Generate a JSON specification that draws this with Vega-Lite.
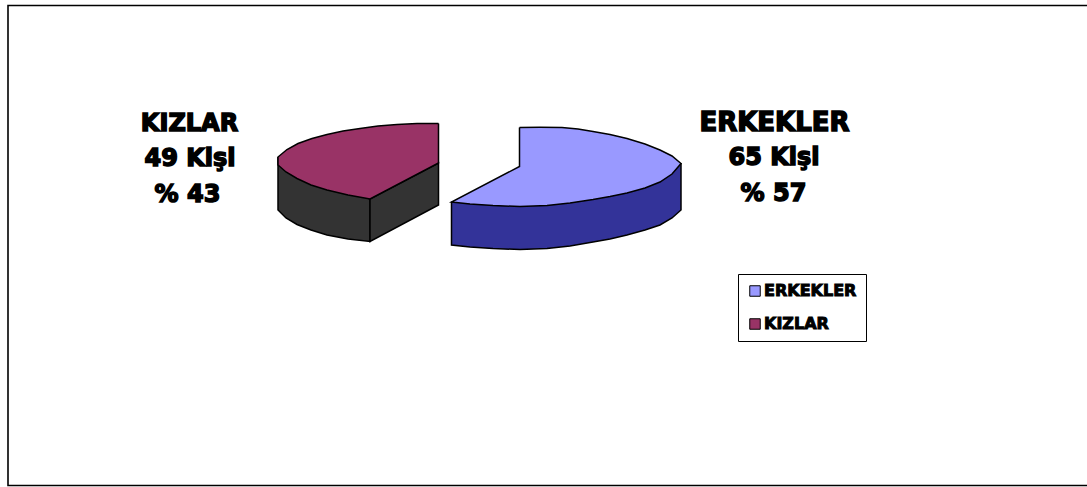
{
"$schema":"https://vega.github.io/schema/vega-lite/v6.json",
"autosize":"none",
"width":1087,"height":487,"padding":0,
"background":"#ffffff",
"config":{"view":{"stroke":null}},
"datasets":{
"cerceve":[{"x":1087,"y":5.5,"o":1},{"x":8,"y":5.5,"o":2},{"x":8,"y":485.5,"o":3},{"x":1087,"y":485.5,"o":4}],
"yan":[
{"yuz":"KIZLAR yan","o":1,"x":278,"y":157},{"yuz":"KIZLAR yan","o":2,"x":278,"y":210},{"yuz":"KIZLAR yan","o":3,"x":286,"y":218},{"yuz":"KIZLAR yan","o":4,"x":297,"y":224.5},{"yuz":"KIZLAR yan","o":5,"x":311,"y":230},{"yuz":"KIZLAR yan","o":6,"x":327,"y":235},{"yuz":"KIZLAR yan","o":7,"x":348,"y":239},{"yuz":"KIZLAR yan","o":8,"x":370,"y":241.5},{"yuz":"KIZLAR yan","o":9,"x":370,"y":199},{"yuz":"KIZLAR yan","o":10,"x":278,"y":165},{"yuz":"KIZLAR yan","o":11,"x":278,"y":157},
{"yuz":"KIZLAR kesit","o":1,"x":370,"y":199},{"yuz":"KIZLAR kesit","o":2,"x":370,"y":241.5},{"yuz":"KIZLAR kesit","o":3,"x":438.5,"y":205},{"yuz":"KIZLAR kesit","o":4,"x":438.5,"y":163},{"yuz":"KIZLAR kesit","o":5,"x":370,"y":199},
{"yuz":"ERKEKLER yan","o":1,"x":451.5,"y":202},{"yuz":"ERKEKLER yan","o":2,"x":451.5,"y":245},{"yuz":"ERKEKLER yan","o":3,"x":470,"y":247},{"yuz":"ERKEKLER yan","o":4,"x":493,"y":248.5},{"yuz":"ERKEKLER yan","o":5,"x":520,"y":249.5},{"yuz":"ERKEKLER yan","o":6,"x":547,"y":248.5},{"yuz":"ERKEKLER yan","o":7,"x":570,"y":246},{"yuz":"ERKEKLER yan","o":8,"x":593,"y":242},{"yuz":"ERKEKLER yan","o":9,"x":610,"y":239},{"yuz":"ERKEKLER yan","o":10,"x":627,"y":235},{"yuz":"ERKEKLER yan","o":11,"x":645,"y":230},{"yuz":"ERKEKLER yan","o":12,"x":660,"y":225},{"yuz":"ERKEKLER yan","o":13,"x":672,"y":218},{"yuz":"ERKEKLER yan","o":14,"x":681,"y":210},{"yuz":"ERKEKLER yan","o":15,"x":681,"y":164},{"yuz":"ERKEKLER yan","o":16,"x":451.5,"y":202}
],
"ust":[
{"dilim":"ERKEKLER","o":1,"x":519.5,"y":127.5},{"dilim":"ERKEKLER","o":2,"x":540,"y":127.3},{"dilim":"ERKEKLER","o":3,"x":562,"y":127.5},{"dilim":"ERKEKLER","o":4,"x":578,"y":129},{"dilim":"ERKEKLER","o":5,"x":593,"y":131.5},{"dilim":"ERKEKLER","o":6,"x":610,"y":134.5},{"dilim":"ERKEKLER","o":7,"x":627,"y":138.5},{"dilim":"ERKEKLER","o":8,"x":645,"y":144},{"dilim":"ERKEKLER","o":9,"x":660,"y":150},{"dilim":"ERKEKLER","o":10,"x":672,"y":156},{"dilim":"ERKEKLER","o":11,"x":681,"y":163.5},{"dilim":"ERKEKLER","o":12,"x":672,"y":174},{"dilim":"ERKEKLER","o":13,"x":660,"y":182},{"dilim":"ERKEKLER","o":14,"x":645,"y":188},{"dilim":"ERKEKLER","o":15,"x":627,"y":193},{"dilim":"ERKEKLER","o":16,"x":610,"y":196.5},{"dilim":"ERKEKLER","o":17,"x":593,"y":199.5},{"dilim":"ERKEKLER","o":18,"x":570,"y":203},{"dilim":"ERKEKLER","o":19,"x":547,"y":205.5},{"dilim":"ERKEKLER","o":20,"x":520,"y":206.5},{"dilim":"ERKEKLER","o":21,"x":493,"y":205.5},{"dilim":"ERKEKLER","o":22,"x":470,"y":204},{"dilim":"ERKEKLER","o":23,"x":451.5,"y":202},{"dilim":"ERKEKLER","o":24,"x":519.5,"y":166.5},{"dilim":"ERKEKLER","o":25,"x":519.5,"y":127.5},
{"dilim":"KIZLAR","o":1,"x":438.5,"y":123.5},{"dilim":"KIZLAR","o":2,"x":417,"y":123.5},{"dilim":"KIZLAR","o":3,"x":397,"y":124.5},{"dilim":"KIZLAR","o":4,"x":378,"y":126},{"dilim":"KIZLAR","o":5,"x":360,"y":128.5},{"dilim":"KIZLAR","o":6,"x":343,"y":131},{"dilim":"KIZLAR","o":7,"x":327,"y":134.5},{"dilim":"KIZLAR","o":8,"x":312,"y":138.5},{"dilim":"KIZLAR","o":9,"x":298,"y":143.5},{"dilim":"KIZLAR","o":10,"x":287,"y":149.5},{"dilim":"KIZLAR","o":11,"x":278,"y":157},{"dilim":"KIZLAR","o":12,"x":278,"y":165},{"dilim":"KIZLAR","o":13,"x":286,"y":172},{"dilim":"KIZLAR","o":14,"x":297,"y":178.5},{"dilim":"KIZLAR","o":15,"x":311,"y":185},{"dilim":"KIZLAR","o":16,"x":327,"y":190},{"dilim":"KIZLAR","o":17,"x":348,"y":195},{"dilim":"KIZLAR","o":18,"x":370,"y":199},{"dilim":"KIZLAR","o":19,"x":438.5,"y":163},{"dilim":"KIZLAR","o":20,"x":438.5,"y":123.5}
],
"etiket":[
{"metin":"KIZLAR","x":189.5,"y":124},{"metin":"49 Kişi","x":190,"y":159},{"metin":"% 43","x":187.5,"y":195},
{"metin":"65 Kişi","x":774,"y":158},{"metin":"% 57","x":773.5,"y":194}
],
"baslik":[{"metin":"ERKEKLER","x":774.5,"y":123}]
},
"layer":[
{"data":{"name":"cerceve"},"mark":{"type":"line","stroke":"#000000","strokeWidth":1.6,"clip":true},
"encoding":{"x":{"field":"x","type":"quantitative","scale":{"domain":[0,1087],"nice":false},"axis":null},"y":{"field":"y","type":"quantitative","scale":{"domain":[487,0],"nice":false},"axis":null},"order":{"field":"o"}}},
{"data":{"name":"yan"},"mark":{"type":"line","filled":true,"stroke":"#000000","strokeWidth":1.5},
"encoding":{"x":{"field":"x","type":"quantitative","scale":{"domain":[0,1087],"nice":false},"axis":null},"y":{"field":"y","type":"quantitative","scale":{"domain":[487,0],"nice":false},"axis":null},"order":{"field":"o"},
"fill":{"field":"yuz","type":"nominal","legend":null,"scale":{"domain":["ERKEKLER yan","KIZLAR yan","KIZLAR kesit"],"range":["#333399","#333333","#333333"]}}}},
{"data":{"name":"ust"},"mark":{"type":"line","filled":true,"stroke":"#000000","strokeWidth":1.5},
"encoding":{"x":{"field":"x","type":"quantitative","scale":{"domain":[0,1087],"nice":false},"axis":null},"y":{"field":"y","type":"quantitative","scale":{"domain":[487,0],"nice":false},"axis":null},"order":{"field":"o"},
"fill":{"field":"dilim","type":"nominal","scale":{"domain":["ERKEKLER","KIZLAR"],"range":["#9999ff","#993366"]},
"legend":{"title":null,"orient":"none","legendX":738,"legendY":274,"padding":9,"strokeColor":"#000000","fillColor":"#ffffff","symbolType":"square","symbolSize":110,"symbolStrokeColor":"#000000","symbolStrokeWidth":1,"labelFont":"DejaVu Sans","labelFontWeight":"bold","labelFontSize":16,"labelColor":"#000000","rowPadding":17,"labelOffset":1,
"encode":{"labels":{"update":{"stroke":{"value":"#000000"},"strokeWidth":{"value":1}}}}}}}},
{"data":{"name":"etiket"},"mark":{"type":"text","font":"DejaVu Sans","fontWeight":"bold","fontSize":24,"align":"center","baseline":"middle","fill":"#000000","stroke":"#000000","strokeWidth":1.5},
"encoding":{"x":{"field":"x","type":"quantitative","scale":{"domain":[0,1087],"nice":false},"axis":null},"y":{"field":"y","type":"quantitative","scale":{"domain":[487,0],"nice":false},"axis":null},"text":{"field":"metin"}}},
{"data":{"name":"baslik"},"mark":{"type":"text","font":"DejaVu Sans","fontWeight":"bold","fontSize":26,"align":"center","baseline":"middle","fill":"#000000","stroke":"#000000","strokeWidth":1.5},
"encoding":{"x":{"field":"x","type":"quantitative","scale":{"domain":[0,1087],"nice":false},"axis":null},"y":{"field":"y","type":"quantitative","scale":{"domain":[487,0],"nice":false},"axis":null},"text":{"field":"metin"}}}
],
"resolve":{"scale":{"fill":"independent"}}
}
